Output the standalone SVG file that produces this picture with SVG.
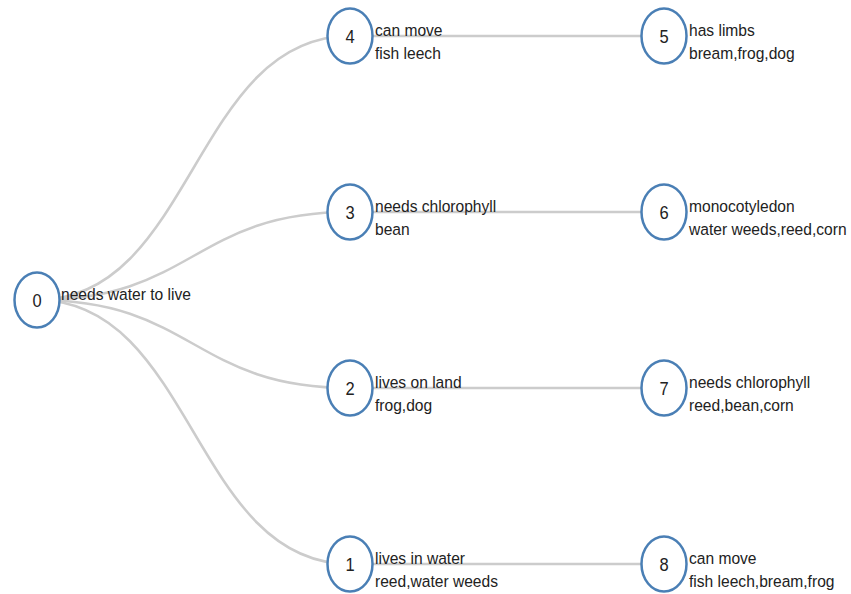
<svg xmlns="http://www.w3.org/2000/svg" width="851" height="594" viewBox="0 0 851 594">
<style>
.link{fill:none;stroke:#cccccc;stroke-width:2.5}
.node ellipse{fill:#ffffff;stroke:#4a7fb5;stroke-width:2.5}
.num{font-family:"Liberation Sans",Arial,sans-serif;font-size:16.5px;fill:#222;text-anchor:middle;transform-box:fill-box;transform-origin:center;transform:scaleY(1.1)}
.lbl{font-family:"Liberation Sans",Arial,sans-serif;font-size:15.6px;fill:#222;transform-box:fill-box;transform-origin:center;transform:scaleY(1.1)}
</style>
<rect width="851" height="594" fill="#ffffff"/>
<g id="links">
<path class="link" d="M37,300 C193.5,300 193.5,36 350,36"/>
<path class="link" d="M37,300 C193.5,300 193.5,212 350,212"/>
<path class="link" d="M37,300 C193.5,300 193.5,388 350,388"/>
<path class="link" d="M37,300 C193.5,300 193.5,564 350,564"/>
<path class="link" d="M350,36 L664,36"/>
<path class="link" d="M350,212 L664,212"/>
<path class="link" d="M350,388 L664,388"/>
<path class="link" d="M350,564 L664,564"/>
</g>
<g id="node0" class="node">
<ellipse cx="37" cy="300" rx="22.5" ry="27.5"/>
<text class="num" x="37" y="306">0</text>
<text class="lbl" x="61" y="299">needs water to live</text>
</g>
<g id="node4" class="node">
<ellipse cx="350" cy="36" rx="22.5" ry="27.5"/>
<text class="num" x="350" y="42">4</text>
<text class="lbl" x="375" y="35">can move</text>
<text class="lbl" x="375" y="58">fish leech</text>
</g>
<g id="node3" class="node">
<ellipse cx="350" cy="212" rx="22.5" ry="27.5"/>
<text class="num" x="350" y="218">3</text>
<text class="lbl" x="375" y="211">needs chlorophyll</text>
<text class="lbl" x="375" y="234">bean</text>
</g>
<g id="node2" class="node">
<ellipse cx="350" cy="388" rx="22.5" ry="27.5"/>
<text class="num" x="350" y="394">2</text>
<text class="lbl" x="375" y="387">lives on land</text>
<text class="lbl" x="375" y="410">frog,dog</text>
</g>
<g id="node1" class="node">
<ellipse cx="350" cy="564" rx="22.5" ry="27.5"/>
<text class="num" x="350" y="570">1</text>
<text class="lbl" x="375" y="563">lives in water</text>
<text class="lbl" x="375" y="586">reed,water weeds</text>
</g>
<g id="node5" class="node">
<ellipse cx="664" cy="36" rx="22.5" ry="27.5"/>
<text class="num" x="664" y="42">5</text>
<text class="lbl" x="689" y="35">has limbs</text>
<text class="lbl" x="689" y="58">bream,frog,dog</text>
</g>
<g id="node6" class="node">
<ellipse cx="664" cy="212" rx="22.5" ry="27.5"/>
<text class="num" x="664" y="218">6</text>
<text class="lbl" x="689" y="211">monocotyledon</text>
<text class="lbl" x="689" y="234">water weeds,reed,corn</text>
</g>
<g id="node7" class="node">
<ellipse cx="664" cy="388" rx="22.5" ry="27.5"/>
<text class="num" x="664" y="394">7</text>
<text class="lbl" x="689" y="387">needs chlorophyll</text>
<text class="lbl" x="689" y="410">reed,bean,corn</text>
</g>
<g id="node8" class="node">
<ellipse cx="664" cy="564" rx="22.5" ry="27.5"/>
<text class="num" x="664" y="570">8</text>
<text class="lbl" x="689" y="563">can move</text>
<text class="lbl" x="689" y="586">fish leech,bream,frog</text>
</g>
</svg>
